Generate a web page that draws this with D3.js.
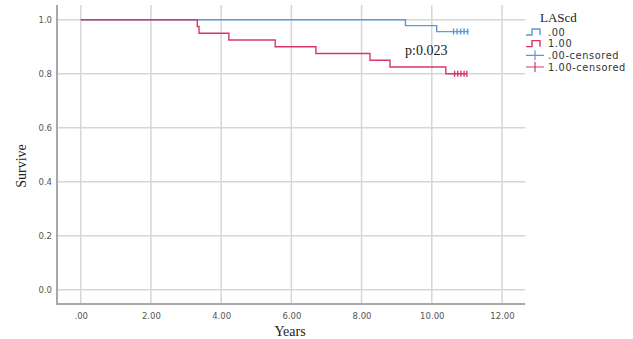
<!DOCTYPE html>
<html>
<head>
<meta charset="utf-8">
<script src="https://cdn.jsdelivr.net/npm/d3@7"></script>
<style>
  body { margin: 0; background: #fff; }
  svg { display: block; }
</style>
</head>
<body>
<script>
// Kaplan-Meier steps
const xTicks = [0, 2, 4, 6, 8, 10, 12];
const yTicks = [0, 0.2, 0.4, 0.6, 0.8, 1.0];

const blueTimes = [9.25, 10.14];
const blueSurv = [0.978, 0.956];
const blueEnd = 11.05;
const blueCensor = [10.62, 10.72, 10.82, 10.92, 11.02];

const redTimes = [3.32, 3.37, 4.22, 5.54, 6.70, 8.24, 8.81, 10.40];
const redSurv = [0.975, 0.95, 0.925, 0.90, 0.875, 0.85, 0.825, 0.80];
const redEnd = 11.0;
const redCensor = [10.65, 10.74, 10.83, 10.92, 11.0];

const legendLabels = [".00", "1.00", ".00-censored", "1.00-censored"];

const width = 633, height = 339;
const blue = "#5b9bd8", red = "#d8366a";

const svg = d3.select("body").append("svg")
  .attr("width", width)
  .attr("height", height);

const x = d3.scaleLinear().domain([0, 12]).range([80.7, 502]);
const y = d3.scaleLinear().domain([0, 1]).range([289.7, 19.7]);

const plotL = 57, plotR = 525, plotT = 5, plotB = 304;

// grid
const grid = svg.append("g").attr("stroke", "#d6d6d6").attr("stroke-width", 1.5);
grid.selectAll(".v").data(xTicks).enter().append("line")
  .attr("x1", d => x(d)).attr("x2", d => x(d))
  .attr("y1", plotT).attr("y2", plotB);
grid.selectAll(".h").data(yTicks).enter().append("line")
  .attr("x1", plotL).attr("x2", plotR)
  .attr("y1", d => y(d)).attr("y2", d => y(d));

// axes
const xAxis = svg.append("g")
  .attr("transform", `translate(0,${plotB})`)
  .call(d3.axisBottom(x).tickValues(xTicks).tickSize(0).tickPadding(9)
    .tickFormat(d => d === 0 ? ".00" : d3.format(".2f")(d)));
xAxis.select(".domain").remove();

const yAxis = svg.append("g")
  .attr("transform", `translate(${plotL},0)`)
  .call(d3.axisLeft(y).tickValues(yTicks).tickSize(0).tickPadding(5)
    .tickFormat(d3.format(".1f")));
yAxis.select(".domain").remove();

svg.selectAll(".tick text")
  .attr("fill", "#555")
  .style("font-family", "DejaVu Sans")
  .style("font-size", "8.5px");

svg.append("path")
  .attr("d", `M${plotL},${plotT}V${plotB}H${plotR}`)
  .attr("fill", "none")
  .attr("stroke", "#a8a8a8")
  .attr("stroke-width", 2);

// curves
function steps(times, surv, end) {
  const pts = [[0, 1]];
  times.forEach((t, i) => pts.push([t, surv[i]]));
  pts.push([end, surv[surv.length - 1]]);
  return pts;
}

const line = d3.line().x(d => x(d[0])).y(d => y(d[1])).curve(d3.curveStepAfter);

function drawCurve(times, surv, end, cens, color) {
  const pts = steps(times, surv, end);
  svg.append("path")
    .datum(pts)
    .attr("d", line)
    .attr("fill", "none")
    .attr("stroke", color)
    .attr("stroke-width", 1.4);
  const last = surv[surv.length - 1];
  svg.append("g").selectAll("line").data(cens).enter().append("line")
    .attr("x1", d => x(d)).attr("x2", d => x(d))
    .attr("y1", y(last) - 3).attr("y2", y(last) + 3)
    .attr("stroke", color)
    .attr("stroke-width", 1.4);
}

drawCurve(blueTimes, blueSurv, blueEnd, blueCensor, blue);
drawCurve(redTimes, redSurv, redEnd, redCensor, red);

// p value
svg.append("text")
  .attr("x", 405)
  .attr("y", 55)
  .style("font-family", "Liberation Serif")
  .style("font-size", "14px")
  .attr("fill", "#222")
  .text("p:0.023");

// axis titles
svg.append("text")
  .attr("x", 290).attr("y", 336)
  .attr("text-anchor", "middle")
  .style("font-family", "Liberation Serif")
  .style("font-size", "14px")
  .attr("fill", "#222")
  .text("Years");

svg.append("text")
  .attr("transform", "translate(26,166) rotate(-90)")
  .attr("text-anchor", "middle")
  .style("font-family", "Liberation Serif")
  .style("font-size", "14px")
  .attr("fill", "#222")
  .text("Survive");

// legend
const legend = svg.append("g");
legend.append("text")
  .attr("x", 540).attr("y", 22)
  .style("font-family", "Liberation Serif")
  .style("font-size", "13px")
  .attr("fill", "#222")
  .text("LAScd");

const rowY = d3.scalePoint().domain(legendLabels).range([32, 67]);
const colors = [blue, red, blue, red];

legendLabels.forEach((lab, i) => {
  const cy = rowY(lab);
  const g = legend.append("g").attr("transform", `translate(526,${cy})`);
  if (i < 2) {
    g.append("path")
      .attr("d", "M0,3H6V-3H14V3")
      .attr("fill", "none")
      .attr("stroke", colors[i])
      .attr("stroke-width", 1.4);
  } else {
    g.append("path")
      .attr("d", "M0,0H18M9,-5V5")
      .attr("fill", "none")
      .attr("stroke", colors[i])
      .attr("stroke-width", 1.2);
  }
  legend.append("text")
    .attr("x", 548).attr("y", cy + 3.5)
    .style("font-family", "DejaVu Sans")
    .style("font-size", "9.8px")
    .style("letter-spacing", "0.6px")
    .attr("fill", "#333")
    .text(lab);
});
</script>
</body>
</html>
